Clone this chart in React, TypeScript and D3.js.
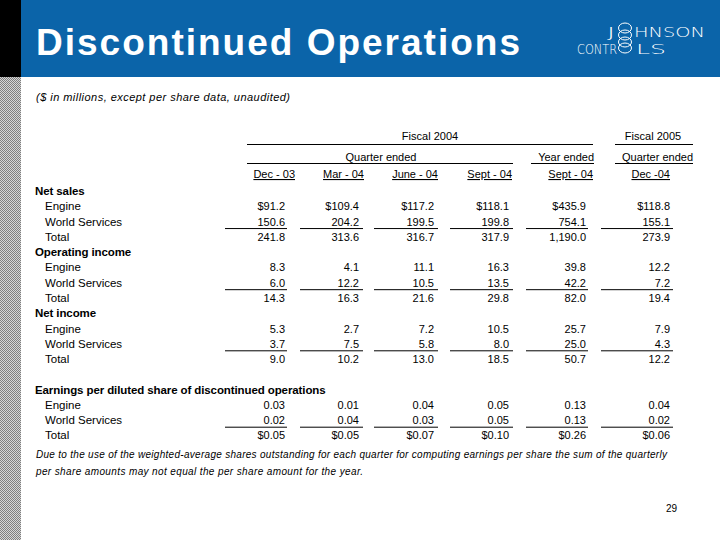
import React from "react";
import * as d3 from "d3";

// ---------- data ----------
const fiscalGroups = ["Fiscal 2004", "Fiscal 2005"];
const periodGroups = ["Quarter ended", "Year ended", "Quarter ended"];
const periods = ["Dec - 03", "Mar - 04", "June - 04", "Sept - 04", "Sept - 04", "Dec -04"];

const sections = ["Net sales", "Operating income", "Net income", "Earnings per diluted share of discontinued operations"];
const lineItems = ["Engine", "World Services", "Total"];

const netSalesEngine = [91.2, 109.4, 117.2, 118.1, 435.9, 118.8];
const netSalesWorld = [150.6, 204.2, 199.5, 199.8, 754.1, 155.1];
const netSalesTotal = [241.8, 313.6, 316.7, 317.9, 1190.0, 273.9];

const opIncEngine = [8.3, 4.1, 11.1, 16.3, 39.8, 12.2];
const opIncWorld = [6.0, 12.2, 10.5, 13.5, 42.2, 7.2];
const opIncTotal = [14.3, 16.3, 21.6, 29.8, 82.0, 19.4];

const netIncEngine = [5.3, 2.7, 7.2, 10.5, 25.7, 7.9];
const netIncWorld = [3.7, 7.5, 5.8, 8.0, 25.0, 4.3];
const netIncTotal = [9.0, 10.2, 13.0, 18.5, 50.7, 12.2];

const epsEngine = [0.03, 0.01, 0.04, 0.05, 0.13, 0.04];
const epsWorld = [0.02, 0.04, 0.03, 0.05, 0.13, 0.02];
const epsTotal = [0.05, 0.05, 0.07, 0.1, 0.26, 0.06];

const titleText = "Discontinued Operations";
const subtitleText = "($ in millions, except per share data, unaudited)";
const footnoteLines = [
  "Due to the use of the weighted-average shares outstanding for each quarter for computing earnings per share the sum of the quarterly",
  "per share amounts may not equal the per share amount for the year.",
];
const pageNumber = "29";

// ---------- layout ----------
const W = 720;
const H = 540;
const FONT = "Arial, 'Liberation Sans', Helvetica, sans-serif";
const BLUE = "#0b64a9";

const colIdx = d3.range(periods.length);
const valueRight = d3.scaleOrdinal<number, number>().domain(colIdx).range([285, 359, 434, 509, 586, 670]);
const headRight = d3.scaleOrdinal<number, number>().domain(colIdx).range([295, 364, 438, 512, 593, 670]);
const ruleX0 = d3.scaleOrdinal<number, number>().domain(colIdx).range([225, 300, 374, 450, 526, 601]);
const ruleX1 = d3.scaleOrdinal<number, number>().domain(colIdx).range([287, 363, 438, 513, 588, 673]);

const rowY = d3.scaleLinear().domain([0, 16]).range([191, 191 + 15.28 * 16]);

type Row = { kind: "section" | "item"; label: string; values?: number[]; fmt?: (v: number) => string; rule?: boolean; idx: number };

const fmt1 = d3.format(",.1f");
const fmtDollar1 = (v: number) => "$" + fmt1(v);
const fmt2 = d3.format(".2f");
const fmtDollar2 = (v: number) => "$" + fmt2(v);

function buildRows(): Row[] {
  const groups: { values: number[][]; fmts: ((v: number) => string)[] }[] = [
    { values: [netSalesEngine, netSalesWorld, netSalesTotal], fmts: [fmtDollar1, fmt1, fmt1] },
    { values: [opIncEngine, opIncWorld, opIncTotal], fmts: [fmt1, fmt1, fmt1] },
    { values: [netIncEngine, netIncWorld, netIncTotal], fmts: [fmt1, fmt1, fmt1] },
    { values: [epsEngine, epsWorld, epsTotal], fmts: [fmt2, fmt2, fmtDollar2] },
  ];
  const rows: Row[] = [];
  let i = 0;
  groups.forEach((g, gi) => {
    if (gi === 3) i += 1; // blank spacer row
    rows.push({ kind: "section", label: sections[gi], idx: i++ });
    lineItems.forEach((li, k) => {
      rows.push({ kind: "item", label: li, values: g.values[k], fmt: g.fmts[k], rule: k === 1, idx: i++ });
    });
  });
  return rows;
}

export default function App() {
  const rows = buildRows();
  return (
    <svg
      width={W}
      height={H}
      viewBox={`0 0 ${W} ${H}`}
      style={{ position: "absolute", left: 0, top: 0, display: "block", background: "#fff" }}
      fontFamily={FONT}
    >
      <defs>
        <pattern id="dither" width={2} height={2} patternUnits="userSpaceOnUse">
          <rect width={2} height={2} fill="#d6d6d6" />
          <rect x={0} y={0} width={1} height={1} fill="#7e7e7e" />
          <rect x={1} y={1} width={1} height={1} fill="#7e7e7e" />
        </pattern>
      </defs>
      <rect x={0} y={0} width={W} height={H} fill="#fff" />
      {/* header band */}
      <rect x={21} y={0} width={W - 21} height={77} fill={BLUE} />
      <rect x={0} y={0} width={21} height={77} fill="#000" />
      <rect x={0} y={77} width={21} height={H - 77} fill="url(#dither)" />

      <text x={36} y={55} fill="#fff" fontSize={37} fontWeight="bold" textLength={484} lengthAdjust="spacing">
        {titleText}
      </text>

      {/* logo */}
      <g fill="#fff" fontFamily="'DejaVu Sans', Arial, sans-serif" fontWeight={200} fontSize={14.5}>
        <text x={607} y={36.5} textLength={8} lengthAdjust="spacingAndGlyphs">J</text>
        <text x={634} y={36.5} textLength={71} lengthAdjust="spacingAndGlyphs">HNSON</text>
        <text x={577} y={54} textLength={40} lengthAdjust="spacingAndGlyphs">CONTR</text>
        <text x={636} y={54} textLength={30} lengthAdjust="spacingAndGlyphs">LS</text>
      </g>
      <g fill="none" stroke="#fff" strokeWidth={1}>
        <ellipse cx={625} cy={28} rx={6.5} ry={5} />
        <ellipse cx={625} cy={35} rx={6.5} ry={5} />
        <ellipse cx={625} cy={42} rx={6.5} ry={5} />
        <ellipse cx={625} cy={48} rx={6.5} ry={5} />
      </g>

      <text x={36} y={101} fontSize={11} fontStyle="italic" fill="#000" textLength={254} lengthAdjust="spacing">
        {subtitleText}
      </text>

      {/* column headers */}
      <g fontSize={11} fill="#000">
        <text x={430} y={140} textAnchor="middle">{fiscalGroups[0]}</text>
        <line x1={247} x2={593} y1={144.5} y2={144.5} stroke="#000" />
        <text x={653} y={140} textAnchor="middle">{fiscalGroups[1]}</text>
        <line x1={615} x2={693} y1={144.5} y2={144.5} stroke="#000" />

        <text x={381} y={161} textAnchor="middle">{periodGroups[0]}</text>
        <line x1={247} x2={513} y1={163.5} y2={163.5} stroke="#000" />
        <text x={594} y={161} textAnchor="end">{periodGroups[1]}</text>
        <line x1={531} x2={594} y1={163.5} y2={163.5} stroke="#000" />
        <text x={693} y={161} textAnchor="end">{periodGroups[2]}</text>
        <line x1={615} x2={693} y1={163.5} y2={163.5} stroke="#000" />

        {periods.map((p, i) => (
          <text key={i} x={headRight(i)} y={178} textAnchor="end" textDecoration="underline">
            {p}
          </text>
        ))}
      </g>

      {/* body */}
      <g fill="#000">
        {rows.map((r) => {
          const yc = rowY(r.idx);
          if (r.kind === "section") {
            return (
              <text key={r.idx} x={35} y={yc + 4} fontSize={11.5} fontWeight="bold" letterSpacing={-0.1}>
                {r.label}
              </text>
            );
          }
          return (
            <g key={r.idx}>
              <text x={45} y={yc + 4} fontSize={11.5}>{r.label}</text>
              {r.values!.map((v, i) => (
                <text key={i} x={valueRight(i)} y={yc + 4} fontSize={11} textAnchor="end">
                  {r.fmt!(v)}
                </text>
              ))}
              {r.rule &&
                r.values!.map((_, i) => (
                  <line key={"r" + i} x1={ruleX0(i)} x2={ruleX1(i)} y1={yc + 7} y2={yc + 7} stroke="#000" />
                ))}
            </g>
          );
        })}
      </g>

      {/* footnote */}
      <g fontSize={10} fontStyle="italic" fill="#000">
        <text x={36} y={458} textLength={631} lengthAdjust="spacing">{footnoteLines[0]}</text>
        <text x={36} y={475} textLength={327} lengthAdjust="spacing">{footnoteLines[1]}</text>
      </g>

      <text x={677} y={512} fontSize={10} textAnchor="end" fill="#000">{pageNumber}</text>
    </svg>
  );
}
